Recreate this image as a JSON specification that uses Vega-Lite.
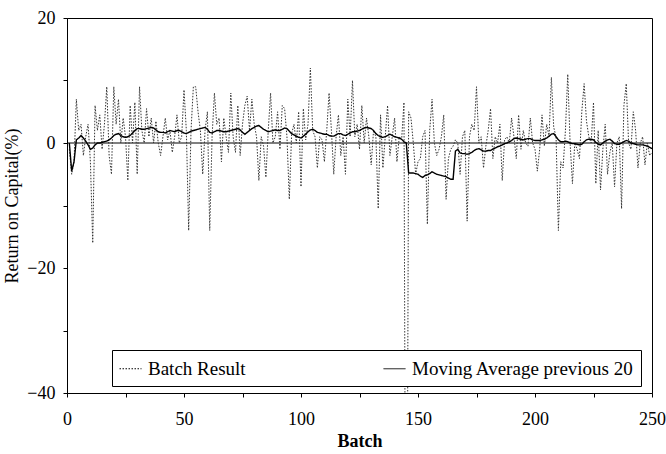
{
"$schema":"https://vega.github.io/schema/vega-lite/v6.json",
"width":585,"height":375,
"autosize":{"type":"none"},
"padding":{"left":67,"top":18,"right":14,"bottom":61},
"background":"white",
"config":{"font":"Liberation Serif","view":{"stroke":"black","strokeWidth":1},
"axis":{"labelFont":"Liberation Serif","labelFontSize":18,"labelColor":"black","titleFont":"Liberation Serif","titleFontSize":18,"titleColor":"black","titleFontWeight":"normal","domainColor":"black","tickColor":"black","grid":false,"tickSize":4}},
"datasets":{"d":[
{"b":1,"r":-1,"m":0},{"b":2,"r":-5,"m":-4.5},{"b":3,"r":-3,"m":-3},{"b":4,"r":7,"m":0.5},{"b":5,"r":2,"m":0.8},{"b":6,"r":3,"m":1.2},{"b":7,"r":-2,"m":0.8},{"b":8,"r":1,"m":0.3},{"b":9,"r":3,"m":-0.3},{"b":10,"r":-3,"m":-1},
{"b":11,"r":-16,"m":-0.8},{"b":12,"r":6,"m":-0.3},{"b":13,"r":2,"m":0},{"b":14,"r":4.5,"m":0},{"b":15,"r":-1,"m":0.1},{"b":16,"r":3,"m":0.2},{"b":17,"r":9,"m":0.3},{"b":18,"r":-2,"m":0.5},{"b":19,"r":-5,"m":0.8},{"b":20,"r":9,"m":1.2},
{"b":21,"r":3,"m":1.4},{"b":22,"r":7,"m":1.5},{"b":23,"r":0,"m":1.2},{"b":24,"r":4,"m":1.0},{"b":25,"r":1,"m":0.9},{"b":26,"r":-6,"m":1.0},{"b":27,"r":6,"m":1.2},{"b":28,"r":0,"m":1.6},{"b":29,"r":6.5,"m":2.0},{"b":30,"r":-5,"m":2.3},
{"b":31,"r":9,"m":2.3},{"b":32,"r":2,"m":2.2},{"b":33,"r":0,"m":2.2},{"b":34,"r":5.5,"m":2.3},{"b":35,"r":1,"m":2.4},{"b":36,"r":4,"m":2.5},{"b":37,"r":0,"m":2.4},{"b":38,"r":3.5,"m":2.1},{"b":39,"r":0,"m":1.8},{"b":40,"r":-2,"m":1.7},
{"b":41,"r":1,"m":1.7},{"b":42,"r":4,"m":1.6},{"b":43,"r":0.5,"m":1.8},{"b":44,"r":2,"m":2.0},{"b":45,"r":-1.5,"m":1.9},{"b":46,"r":1,"m":1.8},{"b":47,"r":4.5,"m":2.0},{"b":48,"r":0,"m":2.0},{"b":49,"r":1,"m":1.8},{"b":50,"r":8.5,"m":1.6},
{"b":51,"r":2,"m":1.5},{"b":52,"r":-14,"m":1.7},{"b":53,"r":2,"m":1.9},{"b":54,"r":9,"m":2.0},{"b":55,"r":9,"m":2.1},{"b":56,"r":5,"m":2.2},{"b":57,"r":2,"m":2.3},{"b":58,"r":-5,"m":2.4},{"b":59,"r":2,"m":2.5},{"b":60,"r":5,"m":2.2},
{"b":61,"r":-14,"m":1.7},{"b":62,"r":1,"m":1.6},{"b":63,"r":8,"m":1.8},{"b":64,"r":3,"m":2.0},{"b":65,"r":4,"m":2.0},{"b":66,"r":-3,"m":1.9},{"b":67,"r":4,"m":1.8},{"b":68,"r":1,"m":1.8},{"b":69,"r":-1.5,"m":1.9},{"b":70,"r":8,"m":2.0},
{"b":71,"r":1,"m":2.1},{"b":72,"r":-1.5,"m":2.2},{"b":73,"r":6,"m":2.3},{"b":74,"r":-2,"m":2.1},{"b":75,"r":3,"m":1.7},{"b":76,"r":6,"m":1.4},{"b":77,"r":7.5,"m":1.7},{"b":78,"r":2,"m":2.0},{"b":79,"r":7,"m":2.3},{"b":80,"r":3,"m":2.5},
{"b":81,"r":1,"m":2.7},{"b":82,"r":-6,"m":2.8},{"b":83,"r":1,"m":2.5},{"b":84,"r":-0.5,"m":2.2},{"b":85,"r":-5.5,"m":2.0},{"b":86,"r":2,"m":1.8},{"b":87,"r":8,"m":1.9},{"b":88,"r":0,"m":2.0},{"b":89,"r":1,"m":2.1},{"b":90,"r":5,"m":2.0},
{"b":91,"r":-1,"m":2.0},{"b":92,"r":6,"m":2.2},{"b":93,"r":5.5,"m":2.4},{"b":94,"r":1,"m":2.3},{"b":95,"r":-9,"m":1.9},{"b":96,"r":1.5,"m":1.5},{"b":97,"r":3,"m":1.3},{"b":98,"r":0,"m":1.1},{"b":99,"r":5,"m":0.9},{"b":100,"r":-7,"m":0.8},
{"b":101,"r":5.5,"m":1.1},{"b":102,"r":0.5,"m":1.4},{"b":103,"r":3,"m":1.8},{"b":104,"r":12,"m":2.1},{"b":105,"r":2,"m":2.2},{"b":106,"r":1,"m":2.0},{"b":107,"r":-4,"m":1.7},{"b":108,"r":1,"m":1.6},{"b":109,"r":0.5,"m":1.5},{"b":110,"r":-3,"m":1.4},
{"b":111,"r":2,"m":1.4},{"b":112,"r":8,"m":1.2},{"b":113,"r":2,"m":1.1},{"b":114,"r":-5,"m":1.1},{"b":115,"r":1,"m":1.3},{"b":116,"r":4.5,"m":1.5},{"b":117,"r":-2,"m":1.5},{"b":118,"r":1,"m":1.3},{"b":119,"r":-5,"m":1.2},{"b":120,"r":7,"m":1.4},
{"b":121,"r":1,"m":1.6},{"b":122,"r":10,"m":1.8},{"b":123,"r":1,"m":1.8},{"b":124,"r":3,"m":1.9},{"b":125,"r":-1,"m":2.0},{"b":126,"r":6,"m":2.2},{"b":127,"r":0,"m":2.4},{"b":128,"r":4,"m":2.5},{"b":129,"r":1,"m":2.4},{"b":130,"r":-3.5,"m":2.3},
{"b":131,"r":2,"m":2.0},{"b":132,"r":1,"m":1.5},{"b":133,"r":-10.5,"m":1.2},{"b":134,"r":4.5,"m":1.0},{"b":135,"r":-4,"m":0.9},{"b":136,"r":1,"m":1.0},{"b":137,"r":6,"m":1.2},{"b":138,"r":-2,"m":1.4},{"b":139,"r":1,"m":1.2},{"b":140,"r":4,"m":1.0},
{"b":141,"r":-3,"m":0.9},{"b":142,"r":1,"m":0.8},{"b":143,"r":0.5,"m":0.6},{"b":144,"r":6.5,"m":0.2},{"b":145,"r":-105,"m":0},{"b":146,"r":5,"m":-4.8},{"b":147,"r":4,"m":-4.8},{"b":148,"r":0,"m":-4.8},{"b":149,"r":-5,"m":-4.9},{"b":150,"r":-3,"m":-5.0},
{"b":151,"r":-2.5,"m":-5.3},{"b":152,"r":1,"m":-5.5},{"b":153,"r":2,"m":-5.2},{"b":154,"r":-13,"m":-5.1},{"b":155,"r":2,"m":-4.9},{"b":156,"r":7,"m":-4.6},{"b":157,"r":0,"m":-4.8},{"b":158,"r":-2,"m":-5.0},{"b":159,"r":-1,"m":-5.1},{"b":160,"r":1,"m":-5.2},
{"b":161,"r":4.5,"m":-5.3},{"b":162,"r":-9,"m":-5.4},{"b":163,"r":-2.5,"m":-5.6},{"b":164,"r":-1,"m":-5.8},{"b":165,"r":-0.5,"m":-5.8},{"b":166,"r":0.5,"m":-1.3},{"b":167,"r":0,"m":-1.0},{"b":168,"r":-5,"m":-1.6},{"b":169,"r":1,"m":-1.7},{"b":170,"r":2,"m":-1.7},
{"b":171,"r":-12.5,"m":-1.8},{"b":172,"r":1,"m":-1.7},{"b":173,"r":3,"m":-1.5},{"b":174,"r":2,"m":-1.2},{"b":175,"r":9,"m":-1.0},{"b":176,"r":0,"m":-0.9},{"b":177,"r":1,"m":-1.1},{"b":178,"r":-4,"m":-1.3},{"b":179,"r":-0.5,"m":-1.3},{"b":180,"r":2,"m":-1.2},
{"b":181,"r":5.5,"m":-1.2},{"b":182,"r":-2.5,"m":-1.0},{"b":183,"r":1,"m":-0.8},{"b":184,"r":0,"m":-0.6},{"b":185,"r":3,"m":-0.5},{"b":186,"r":-6,"m":-0.3},{"b":187,"r":0.5,"m":-0.1},{"b":188,"r":1,"m":0},{"b":189,"r":0,"m":0.2},{"b":190,"r":4,"m":0.4},
{"b":191,"r":1,"m":0.7},{"b":192,"r":-2.5,"m":0.8},{"b":193,"r":4.5,"m":0.7},{"b":194,"r":-1,"m":0.6},{"b":195,"r":2,"m":0.5},{"b":196,"r":0,"m":0.6},{"b":197,"r":-0.5,"m":0.7},{"b":198,"r":4,"m":0.7},{"b":199,"r":0,"m":0.5},{"b":200,"r":-1,"m":0.4},
{"b":201,"r":-4.5,"m":0.4},{"b":202,"r":-1,"m":0.4},{"b":203,"r":4.5,"m":0.5},{"b":204,"r":-0.5,"m":0.6},{"b":205,"r":3,"m":0.8},{"b":206,"r":1,"m":1.1},{"b":207,"r":10.5,"m":1.4},{"b":208,"r":2.5,"m":1.5},{"b":209,"r":1,"m":1.0},{"b":210,"r":-14,"m":0.5},
{"b":211,"r":-3,"m":0.2},{"b":212,"r":-4,"m":0.2},{"b":213,"r":2,"m":0.3},{"b":214,"r":11,"m":0.2},{"b":215,"r":0,"m":0},{"b":216,"r":-6.5,"m":-0.1},{"b":217,"r":0,"m":-0.1},{"b":218,"r":-1,"m":-0.2},{"b":219,"r":-2.5,"m":-0.3},{"b":220,"r":5,"m":-0.2},
{"b":221,"r":9.5,"m":0.2},{"b":222,"r":3.5,"m":0.5},{"b":223,"r":1,"m":0.6},{"b":224,"r":0,"m":0.6},{"b":225,"r":6.5,"m":0.5},{"b":226,"r":-6.5,"m":0.1},{"b":227,"r":2,"m":-0.2},{"b":228,"r":-7.5,"m":-0.3},{"b":229,"r":-1,"m":0},{"b":230,"r":3,"m":0.3},
{"b":231,"r":-5,"m":0.5},{"b":232,"r":-1.5,"m":0.6},{"b":233,"r":0,"m":0.3},{"b":234,"r":-7,"m":-0.1},{"b":235,"r":0,"m":-0.2},{"b":236,"r":1,"m":-0.2},{"b":237,"r":-10.5,"m":0},{"b":238,"r":6,"m":0.2},{"b":239,"r":9.5,"m":0.4},{"b":240,"r":0,"m":0.3},
{"b":241,"r":-1,"m":0},{"b":242,"r":5,"m":-0.1},{"b":243,"r":2,"m":-0.2},{"b":244,"r":-4,"m":-0.3},{"b":245,"r":0,"m":-0.3},{"b":246,"r":1,"m":-0.3},{"b":247,"r":-3.5,"m":-0.4},{"b":248,"r":0,"m":-0.5},{"b":249,"r":-2,"m":-0.7},{"b":250,"r":-1.5,"m":-0.9}
]},
"data":{"name":"d"},
"encoding":{
"x":{"field":"b","type":"quantitative","scale":{"domain":[0,250],"nice":false},
"axis":{"title":"Batch","titleFontWeight":"bold","titleFontSize":18,"values":[0,25,50,75,100,125,150,175,200,225,250],"labelExpr":"datum.value % 50 == 0 ? datum.label : ''","labelPadding":13,"titlePadding":4,"labelFlush":false}}
},
"layer":[
{"mark":{"type":"rule","color":"black","strokeWidth":1},"data":{"values":[{"z":0}]},"encoding":{"y":{"field":"z","type":"quantitative"},"x":null}},
{"mark":{"type":"line","clip":true,"color":"#333333","strokeWidth":1,"interpolate":"linear"},
"encoding":{"y":{"field":"r","type":"quantitative","scale":{"domain":[-40,20],"nice":false,"zero":false},
"axis":{"title":"Return on Capital(%)","values":[-40,-30,-20,-10,0,10,20],"labelExpr":"datum.value % 20 == 0 ? datum.label : ''","labelPadding":8,"titlePadding":5}},
"strokeDash":{"datum":"Batch Result","type":"nominal","scale":{"domain":["Batch Result","Moving Average previous 20"],"range":[[1.5,1.5],[1,0]]},
"legend":{"title":null,"orient":"none","legendX":45,"legendY":332,"direction":"horizontal","columnPadding":135,"padding":7,"fillColor":"white","strokeColor":"black","symbolType":"stroke","symbolSize":484,"symbolStrokeWidth":1,"symbolStrokeColor":"black","labelFont":"Liberation Serif","labelFontSize":19,"labelColor":"black","labelOffset":6,"labelLimit":400}}}},
{"mark":{"type":"line","clip":true,"color":"black","strokeWidth":1.4},
"encoding":{"y":{"field":"m","type":"quantitative"},
"strokeDash":{"datum":"Moving Average previous 20","type":"nominal"}}}
]
}
